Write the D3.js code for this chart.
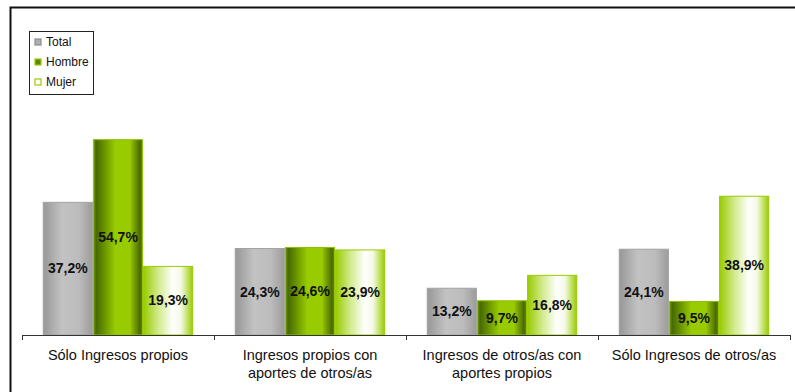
<!DOCTYPE html>
<html>
<head>
<meta charset="utf-8">
<script src="https://cdn.jsdelivr.net/npm/d3@7"></script>
<style>
  html, body { margin: 0; padding: 0; background: #fff; }
  svg { display: block; }
</style>
</head>
<body>
<svg id="chart" width="795" height="392"></svg>
<script>
// Income source categories (line breaks mark wrapped axis labels)
const categories = [
  "Sólo Ingresos propios",
  "Ingresos propios con\naportes de otros/as",
  "Ingresos de otros/as con\naportes propios",
  "Sólo Ingresos de otros/as"
];
const seriesNames = ["Total", "Hombre", "Mujer"];
const totalValues  = [37.2, 24.3, 13.2, 24.1];
const hombreValues = [54.7, 24.6, 9.7, 9.5];
const mujerValues  = [19.3, 23.9, 16.8, 38.9];
const seriesValues = [totalValues, hombreValues, mujerValues];

const fmt = v => v.toFixed(1).replace(".", ",") + "%";

const svg = d3.select("#chart");
const W = 795, H = 392;
const plot = { left: 22, right: 790, bottom: 335 };

// Bar fills: cylinder-style horizontal gradients
const defs = svg.append("defs");
const gradients = {
  Total: [[0, "#979797"], [0.38, "#c2c2c2"], [0.72, "#bcbcbc"], [1, "#9c9c9c"]],
  Hombre: [[0, "#7fb000"], [0.05, "#466800"], [0.45, "#99cc00"], [0.74, "#99cc00"], [0.95, "#4a6700"], [1, "#6f9a00"]],
  Mujer: [[0, "#99cc00"], [0.3, "#d2ea8c"], [0.6, "#ffffff"], [0.76, "#f4f9e4"], [1, "#99cc00"]]
};
const strokes = { Total: "#a3a3a3", Hombre: "#8fc000", Mujer: "#99cc00" };
seriesNames.forEach(name => {
  const g = defs.append("linearGradient")
    .attr("id", "grad-" + name)
    .attr("x1", 0).attr("x2", 1).attr("y1", 0).attr("y2", 0);
  gradients[name].forEach(([o, c]) => g.append("stop").attr("offset", o).attr("stop-color", c));
});

// Outer frame (extends past the visible area)
svg.append("rect")
  .attr("x", 10.5).attr("y", 7.5)
  .attr("width", W + 20).attr("height", H + 20)
  .attr("fill", "none")
  .attr("stroke", "#111")
  .attr("stroke-width", 2);

// Scales
const x0 = d3.scaleBand().domain(categories).range([plot.left, plot.right]);
const inset = x0.bandwidth() * 0.108;
const x1 = d3.scaleBand().domain(seriesNames).range([inset, x0.bandwidth() - inset]);
const y = d3.scaleLinear().domain([0, 60]).range([plot.bottom, plot.bottom - 3.58 * 60]);

// Bars
const groups = svg.append("g").selectAll("g")
  .data(categories)
  .join("g")
  .attr("transform", d => `translate(${x0(d)},0)`);

groups.each(function (cat, ci) {
  const g = d3.select(this);
  const rows = seriesNames.map((s, si) => ({ s, v: seriesValues[si][ci] }));
  g.selectAll("rect")
    .data(rows)
    .join("rect")
    .attr("x", d => x1(d.s) + 0.5)
    .attr("y", d => y(d.v) + 0.5)
    .attr("width", x1.bandwidth() - 1)
    .attr("height", d => y(0) - y(d.v) - 0.5)
    .attr("fill", d => `url(#grad-${d.s})`)
    .attr("stroke", d => strokes[d.s])
    .attr("stroke-width", 1);
  g.selectAll("text")
    .data(rows)
    .join("text")
    .attr("x", d => x1(d.s) + x1.bandwidth() / 2)
    .attr("y", d => (y(d.v) + y(0)) / 2)
    .attr("text-anchor", "middle")
    .attr("dominant-baseline", "central")
    .attr("font-family", "'Liberation Sans', Arial, sans-serif")
    .attr("font-size", 14)
    .attr("font-weight", "bold")
    .attr("fill", "#111")
    .text(d => fmt(d.v));
});

// Category axis
const axisG = svg.append("g").attr("transform", `translate(0,${plot.bottom})`);
axisG.append("line")
  .attr("x1", plot.left).attr("x2", plot.right)
  .attr("y1", 0.5).attr("y2", 0.5)
  .attr("stroke", "#333");
const tickXs = categories.map(c => x0(c)).concat([plot.right]);
axisG.selectAll("line.tick")
  .data(tickXs)
  .join("line")
  .attr("class", "tick")
  .attr("x1", d => Math.round(d) + 0.5).attr("x2", d => Math.round(d) + 0.5)
  .attr("y1", 0).attr("y2", 5)
  .attr("stroke", "#333");

axisG.selectAll("text.cat")
  .data(categories)
  .join("text")
  .attr("class", "cat")
  .attr("x", d => x0(d) + x0.bandwidth() / 2)
  .attr("y", 20)
  .attr("text-anchor", "middle")
  .attr("font-family", "'Liberation Sans', Arial, sans-serif")
  .attr("font-size", 14.5)
  .attr("fill", "#111")
  .each(function (d) {
    const t = d3.select(this);
    d.split("\n").forEach((line, i) => {
      t.append("tspan")
        .attr("x", x0(d) + x0.bandwidth() / 2)
        .attr("dy", i === 0 ? 0 : 17.5)
        .attr("dominant-baseline", "central")
        .text(line);
    });
  });

// Legend
const legend = svg.append("g");
legend.append("rect")
  .attr("x", 29.5).attr("y", 31.5)
  .attr("width", 64).attr("height", 63)
  .attr("fill", "#fff")
  .attr("stroke", "#222");
const legendFills = { Total: "#b0b0b0", Hombre: "#5a8a00", Mujer: "#ffffff" };
const legendStrokes = { Total: "#8c8c8c", Hombre: "#99cc00", Mujer: "#99cc00" };
const legendRows = legend.selectAll("g.item")
  .data(seriesNames)
  .join("g")
  .attr("class", "item")
  .attr("transform", (d, i) => `translate(0,${42 + i * 20})`);
legendRows.append("rect")
  .attr("x", 35).attr("y", -3)
  .attr("width", 6).attr("height", 6)
  .attr("fill", d => legendFills[d])
  .attr("stroke", d => legendStrokes[d])
  .attr("stroke-width", 1.2);
legendRows.append("text")
  .attr("x", 46).attr("y", 0)
  .attr("dominant-baseline", "central")
  .attr("font-family", "'Liberation Sans', Arial, sans-serif")
  .attr("font-size", 12)
  .attr("fill", "#111")
  .text(d => d);
</script>
</body>
</html>
